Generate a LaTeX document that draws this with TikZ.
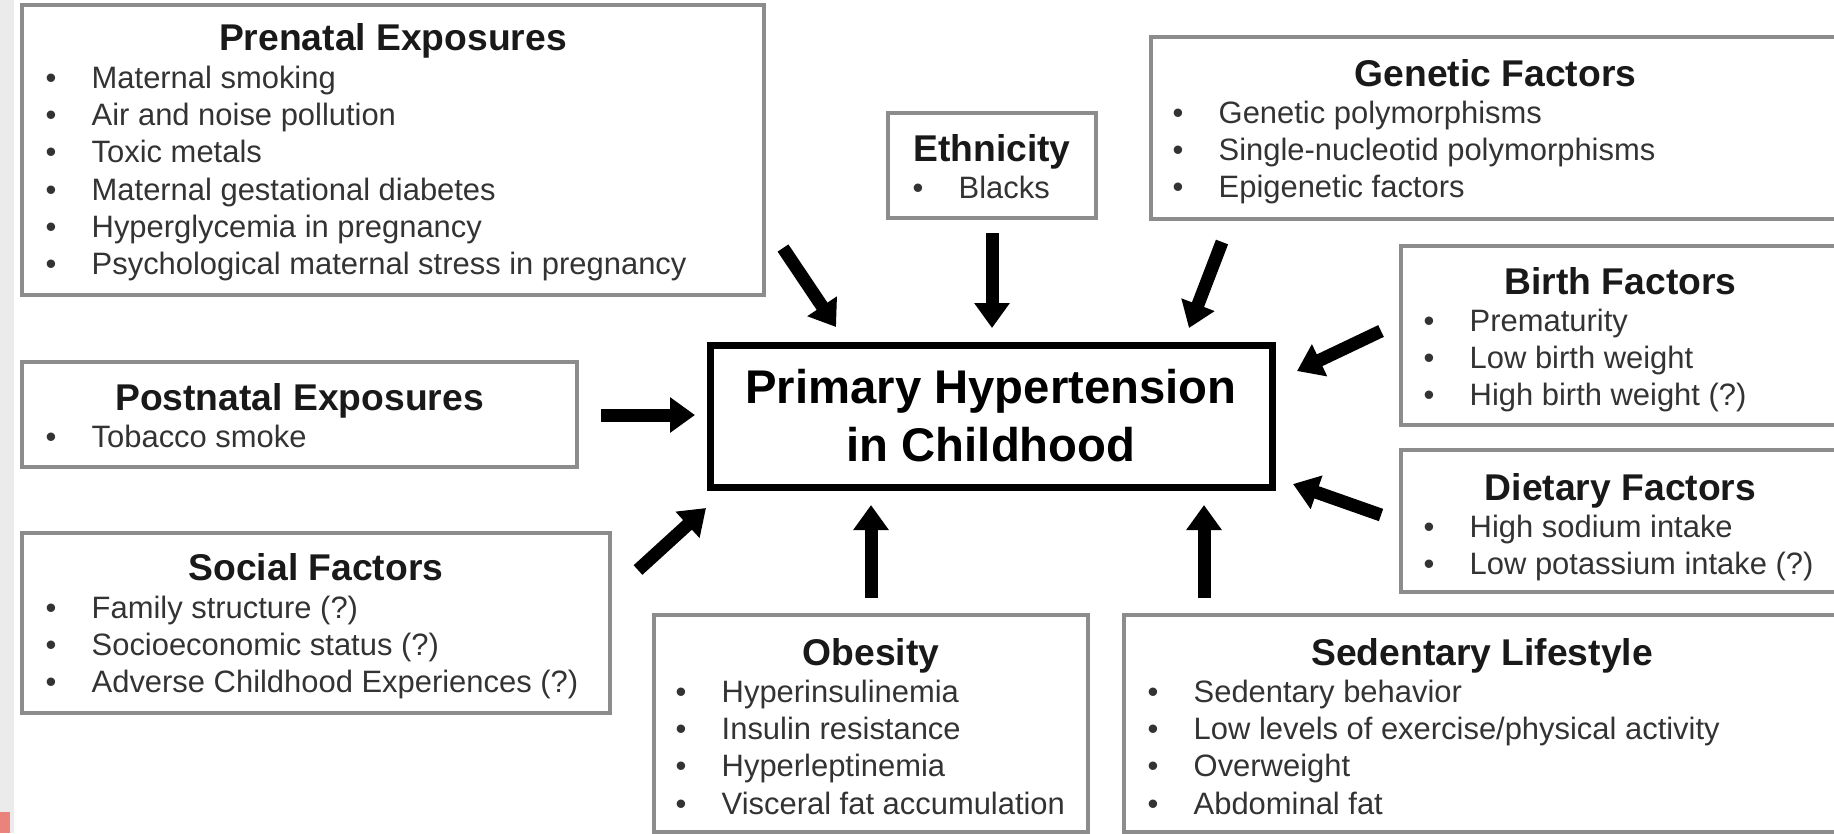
\documentclass[tikz,border=0pt]{standalone}
\usepackage{fontspec}
\setmainfont{Liberation Sans}
\usetikzlibrary{arrows.meta}
\definecolor{edgepink}{HTML}{E9837B}
\newcommand{\fitem}[1]{\makebox[0.46cm][l]{\textbullet}\rule{0pt}{7pt}#1}

\begin{document}
\begin{tikzpicture}[
factor/.style={draw=black!45,line width=1.1pt,anchor=north west,inner sep=0pt,outer sep=0pt},
ftitle/.style={anchor=base,inner sep=0pt,font=\fontsize{10.6}{12}\selectfont\bfseries,text=black!90},
flist/.style={anchor=north west,inner sep=0pt,align=left,font=\fontsize{8.8}{10.6}\selectfont,text=black!80},
mainbox/.style={draw,line width=2pt,inner sep=0pt,outer sep=0pt,align=center,font=\fontsize{13.45}{16.5}\selectfont\bfseries},
fatarrow/.style={line width=3.7pt,-{Triangle[length=0.25cm,width=0.34cm]}}]

\useasboundingbox (0,0) rectangle (18.34,-8.33);
\clip (0,0) rectangle (18.34,-8.33);
\fill[black!8] (0,0) rectangle (0.14,-8.33);
\fill[edgepink] (0,-8.12) rectangle (0.10,-8.33);

% boxes
\node[factor,minimum width=7.42cm,minimum height=2.90cm] (pre) at (0.22,-0.05) {};
\node[factor,minimum width=2.08cm,minimum height=1.05cm] (eth) at (8.88,-1.13) {};
\node[factor,minimum width=6.89cm,minimum height=1.82cm] (gen) at (11.51,-0.37) {};
\node[factor,minimum width=4.39cm,minimum height=1.79cm] (birth) at (14.01,-2.46) {};
\node[factor,minimum width=4.39cm,minimum height=1.42cm] (diet) at (14.01,-4.50) {};
\node[factor,minimum width=5.55cm,minimum height=1.05cm] (post) at (0.22,-3.62) {};
\node[factor,minimum width=5.88cm,minimum height=1.80cm] (soc) at (0.22,-5.33) {};
\node[factor,minimum width=4.34cm,minimum height=2.17cm] (obe) at (6.54,-6.15) {};
\node[factor,minimum width=7.16cm,minimum height=2.17cm] (sed) at (11.24,-6.15) {};
\node[mainbox,minimum width=5.62cm,minimum height=1.42cm] (hyp) at (9.91,-4.16)
  {Primary Hypertension\\in Childhood};

% titles
\node[ftitle] (pre-t) at ([yshift=-0.45cm]pre.north) {Prenatal Exposures};
\node[ftitle] (eth-t) at ([yshift=-0.48cm]eth.north) {Ethnicity};
\node[ftitle] (gen-t) at ([yshift=-0.49cm]gen.north) {Genetic Factors};
\node[ftitle] (birth-t) at ([yshift=-0.48cm]birth.north) {Birth Factors};
\node[ftitle] (diet-t) at ([yshift=-0.50cm]diet.north) {Dietary Factors};
\node[ftitle] (post-t) at ([yshift=-0.48cm]post.north) {Postnatal Exposures};
\node[ftitle] (soc-t) at ([yshift=-0.47cm]soc.north) {Social Factors};
\node[ftitle] (obe-t) at ([yshift=-0.50cm]obe.north) {Obesity};
\node[ftitle] (sed-t) at ([yshift=-0.50cm]sed.north) {Sedentary Lifestyle};

% lists
\node[flist] (pre-l) at (0.45,-0.63) {\fitem{Maternal smoking}\\\fitem{Air and noise pollution}\\
  \fitem{Toxic metals}\\\fitem{Maternal gestational diabetes}\\
  \fitem{Hyperglycemia in pregnancy}\\\fitem{Psychological maternal stress in pregnancy}};
\node[flist] (eth-l) at (9.12,-1.73) {\fitem{Blacks}};
\node[flist] (gen-l) at (11.72,-0.98) {\fitem{Genetic polymorphisms}\\
  \fitem{Single-nucleotid polymorphisms}\\\fitem{Epigenetic factors}};
\node[flist] (birth-l) at (14.23,-3.06) {\fitem{Prematurity}\\\fitem{Low birth weight}\\
  \fitem{High birth weight (?)}};
\node[flist] (diet-l) at (14.23,-5.12) {\fitem{High sodium intake}\\\fitem{Low potassium intake (?)}};
\node[flist] (post-l) at (0.45,-4.22) {\fitem{Tobacco smoke}};
\node[flist] (soc-l) at (0.45,-5.93) {\fitem{Family structure (?)}\\\fitem{Socioeconomic status (?)}\\
  \fitem{Adverse Childhood Experiences (?)}};
\node[flist] (obe-l) at (6.75,-6.77) {\fitem{Hyperinsulinemia}\\\fitem{Insulin resistance}\\
  \fitem{Hyperleptinemia}\\\fitem{Visceral fat accumulation}};
\node[flist] (sed-l) at (11.47,-6.77) {\fitem{Sedentary behavior}\\
  \fitem{Low levels of exercise/physical activity}\\\fitem{Overweight}\\\fitem{Abdominal fat}};

% arrow ends
\coordinate (pre-a) at (7.83,-2.48);   \coordinate (pre-b) at (8.36,-3.27);
\coordinate (eth-a) at (9.92,-2.33);   \coordinate (eth-b) at (9.92,-3.28);
\coordinate (gen-a) at (12.22,-2.42);  \coordinate (gen-b) at (11.89,-3.28);
\coordinate (post-a) at (6.01,-4.15);  \coordinate (post-b) at (6.95,-4.15);
\coordinate (birth-a) at (13.81,-3.31);\coordinate (birth-b) at (12.97,-3.71);
\coordinate (diet-a) at (13.81,-5.15); \coordinate (diet-b) at (12.93,-4.84);
\coordinate (soc-a) at (6.38,-5.70);   \coordinate (soc-b) at (7.06,-5.08);
\coordinate (obe-a) at (8.71,-5.98);   \coordinate (obe-b) at (8.71,-5.05);
\coordinate (sed-a) at (12.04,-5.98);  \coordinate (sed-b) at (12.04,-5.05);

\foreach \f in {pre,eth,gen,post,birth,diet,soc,obe,sed}
  \draw[fatarrow] (\f-a) -- (\f-b);
\end{tikzpicture}
\end{document}
